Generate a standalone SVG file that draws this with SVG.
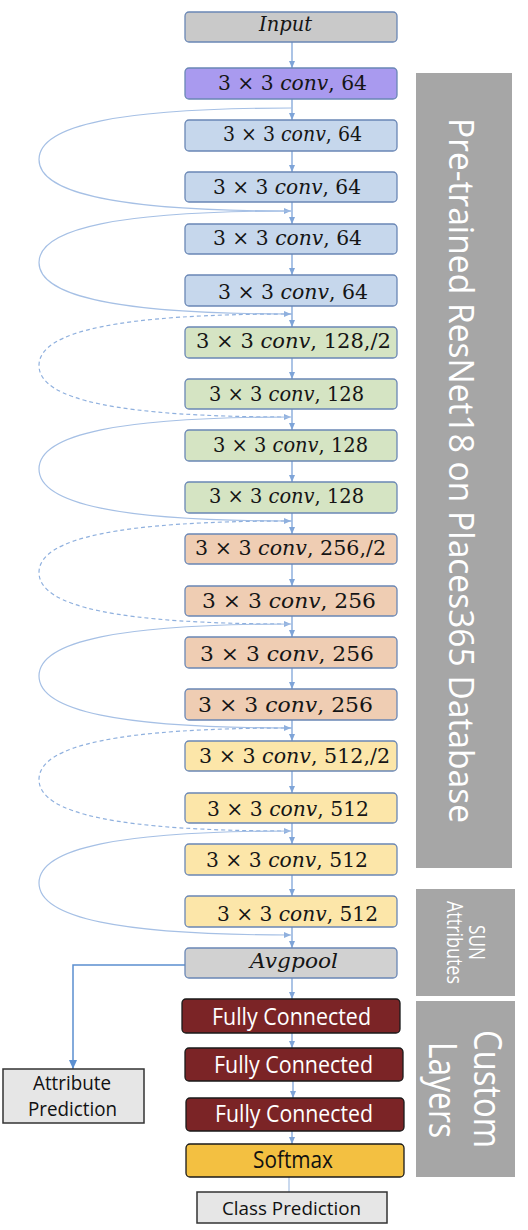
<svg xmlns="http://www.w3.org/2000/svg" width="528" height="1230" viewBox="0 0 528 1230">
<style>
.box{stroke:#6a87b5;stroke-width:1.3}
.gray{fill:#c9c9c9}
.purple{fill:#a99aef}
.blue{fill:#c6d7ec}
.green{fill:#d5e4c3}
.peach{fill:#efcdb3}
.yellow{fill:#fce6a9}
.fc{fill:#7b2426;stroke:#1a1a1a;stroke-width:1.3}
.soft{fill:#f3c041;stroke:#1a1a1a;stroke-width:1.3}
.pred{fill:#e6e6e6;stroke:#333;stroke-width:1.5}
.math{font-family:"DejaVu Serif","Liberation Serif",serif;font-size:20px;fill:#151515}
.it{font-style:italic}
.conn{stroke:#7ea4d8;stroke-width:1.3;fill:none}
.skip{stroke:#a6c0e5;stroke-width:1.2;fill:none}
.dash{stroke:#8fb0de;stroke-dasharray:4 3}
.panel{fill:#a6a6a6}
.ptext{font-family:"Open Sans","Liberation Sans",sans-serif;fill:#fff}
.wtext{font-family:"Open Sans","Liberation Sans",sans-serif;font-size:23px;fill:#fff}
.btext{font-family:"Open Sans","Liberation Sans",sans-serif;fill:#111}
</style>
<defs>
<marker id="ad" markerUnits="userSpaceOnUse" markerWidth="8" markerHeight="6" refX="7" refY="3" orient="auto">
<path d="M0,0 L7,3 L0,6 Z" fill="#7ea4d8"/>
</marker>
<marker id="as" markerUnits="userSpaceOnUse" markerWidth="8" markerHeight="6" refX="7" refY="3" orient="auto">
<path d="M0,0 L7,3 L0,6 Z" fill="#8fb0de"/>
</marker>
<marker id="aa" markerUnits="userSpaceOnUse" markerWidth="10" markerHeight="8" refX="9" refY="4" orient="auto">
<path d="M0,0 L9,4 L0,8 Z" fill="#5b8fd0"/>
</marker>
</defs>

<g id="panels">
<rect class="panel" x="416" y="73" width="96" height="795"/>
<text class="ptext" font-size="34" transform="translate(449,470.5) rotate(90)" text-anchor="middle" textLength="705" lengthAdjust="spacingAndGlyphs">Pre-trained ResNet18 on Places365  Database</text>
<rect class="panel" x="416" y="889" width="99" height="107"/>
<text class="ptext" font-size="21" transform="translate(469,942.5) rotate(90)" text-anchor="middle" textLength="35" lengthAdjust="spacingAndGlyphs">SUN</text>
<text class="ptext" font-size="21" transform="translate(447,942.5) rotate(90)" text-anchor="middle" textLength="83" lengthAdjust="spacingAndGlyphs">Attributes</text>
<rect class="panel" x="416" y="1001" width="99" height="176"/>
<text class="ptext" font-size="38" transform="translate(474,1089) rotate(90)" text-anchor="middle" textLength="118" lengthAdjust="spacingAndGlyphs">Custom</text>
<text class="ptext" font-size="38" transform="translate(429,1090) rotate(90)" text-anchor="middle" textLength="96" lengthAdjust="spacingAndGlyphs">Layers</text>
</g>

<g id="connectors">
<line class="conn" x1="292" y1="42" x2="292" y2="68" marker-end="url(#ad)"/>
<line class="conn" x1="292" y1="99" x2="292" y2="120" marker-end="url(#ad)"/>
<line class="conn" x1="292" y1="151" x2="292" y2="172" marker-end="url(#ad)"/>
<line class="conn" x1="292" y1="202" x2="292" y2="224" marker-end="url(#ad)"/>
<line class="conn" x1="292" y1="254" x2="292" y2="275" marker-end="url(#ad)"/>
<line class="conn" x1="292" y1="306" x2="292" y2="327" marker-end="url(#ad)"/>
<line class="conn" x1="292" y1="358" x2="292" y2="379" marker-end="url(#ad)"/>
<line class="conn" x1="292" y1="409" x2="292" y2="430" marker-end="url(#ad)"/>
<line class="conn" x1="292" y1="461" x2="292" y2="482" marker-end="url(#ad)"/>
<line class="conn" x1="292" y1="513" x2="292" y2="534" marker-end="url(#ad)"/>
<line class="conn" x1="292" y1="564" x2="292" y2="586" marker-end="url(#ad)"/>
<line class="conn" x1="292" y1="616" x2="292" y2="637" marker-end="url(#ad)"/>
<line class="conn" x1="292" y1="668" x2="292" y2="689" marker-end="url(#ad)"/>
<line class="conn" x1="292" y1="720" x2="292" y2="741" marker-end="url(#ad)"/>
<line class="conn" x1="292" y1="771" x2="292" y2="793" marker-end="url(#ad)"/>
<line class="conn" x1="292" y1="823" x2="292" y2="844" marker-end="url(#ad)"/>
<line class="conn" x1="292" y1="875" x2="292" y2="896" marker-end="url(#ad)"/>
<line class="conn" x1="292" y1="927" x2="292" y2="948" marker-end="url(#ad)"/>
<line class="conn" x1="292" y1="978" x2="292" y2="999" marker-end="url(#ad)"/>
<line class="conn" x1="292" y1="1033" x2="292" y2="1048" marker-end="url(#ad)"/>
<line class="conn" x1="293" y1="1081" x2="293" y2="1098" marker-end="url(#ad)"/>
<line class="conn" x1="292" y1="1131" x2="292" y2="1144" marker-end="url(#ad)"/>
<line x1="289" y1="1177" x2="289" y2="1192" stroke="#b8cde9" stroke-width="1.5"/>
<path class="skip" d="M292,108 C120,108 39,125 39,159.5 C39,194 120,211 291,211" marker-end="url(#as)"/>
<path class="skip" d="M292,211 C120,211 39,228 39,262.5 C39,297 120,314 291,314" marker-end="url(#as)"/>
<path class="skip dash" d="M292,314 C120,314 39,331 39,365.5 C39,400 120,417 291,417" marker-end="url(#as)"/>
<path class="skip" d="M292,417 C120,417 39,434 39,469 C39,504 120,521 291,521" marker-end="url(#as)"/>
<path class="skip dash" d="M292,521 C120,521 39,538 39,572.5 C39,607 120,624 291,624" marker-end="url(#as)"/>
<path class="skip" d="M292,624 C120,624 39,641 39,676 C39,711 120,728 291,728" marker-end="url(#as)"/>
<path class="skip dash" d="M292,728 C120,728 39,745 39,779.5 C39,814 120,831 291,831" marker-end="url(#as)"/>
<path class="skip" d="M292,831 C120,831 39,848 39,883 C39,918 120,935 291,935" marker-end="url(#as)"/>
<path d="M185,965 H73 V1069" stroke="#5b8fd0" stroke-width="1.5" fill="none" marker-end="url(#aa)"/>
</g>

<g id="input"><rect class="box gray" x="185" y="12" width="212" height="30" rx="4"/>
<text class="math it" font-size="17" x="259" y="31" textLength="53" lengthAdjust="spacingAndGlyphs">Input</text></g>

<g id="conv1"><rect class="box purple" x="185" y="68" width="212" height="31" rx="4"/>
<text class="math" x="218" y="90" textLength="149" lengthAdjust="spacingAndGlyphs">3 × 3 <tspan class="it">conv</tspan>, 64</text></g>
<g id="conv2"><rect class="box blue" x="185" y="120" width="212" height="31" rx="4"/>
<text class="math" x="223" y="141" textLength="139" lengthAdjust="spacingAndGlyphs">3 × 3 <tspan class="it">conv</tspan>, 64</text></g>
<g id="conv3"><rect class="box blue" x="185" y="172" width="212" height="30" rx="4"/>
<text class="math" x="213" y="194" textLength="148" lengthAdjust="spacingAndGlyphs">3 × 3 <tspan class="it">conv</tspan>, 64</text></g>
<g id="conv4"><rect class="box blue" x="185" y="224" width="212" height="30" rx="4"/>
<text class="math" x="213" y="245" textLength="149" lengthAdjust="spacingAndGlyphs">3 × 3 <tspan class="it">conv</tspan>, 64</text></g>
<g id="conv5"><rect class="box blue" x="185" y="275" width="212" height="31" rx="4"/>
<text class="math" x="218" y="299" textLength="150" lengthAdjust="spacingAndGlyphs">3 × 3 <tspan class="it">conv</tspan>, 64</text></g>

<g id="conv6"><rect class="box green" x="185" y="327" width="212" height="31" rx="4"/>
<text class="math" x="196" y="348" textLength="195" lengthAdjust="spacingAndGlyphs">3 × 3 <tspan class="it">conv</tspan>, 128,/2</text></g>
<g id="conv7"><rect class="box green" x="185" y="379" width="212" height="30" rx="4"/>
<text class="math" x="209" y="401" textLength="155" lengthAdjust="spacingAndGlyphs">3 × 3 <tspan class="it">conv</tspan>, 128</text></g>
<g id="conv8"><rect class="box green" x="185" y="430" width="212" height="31" rx="4"/>
<text class="math" x="213" y="452" textLength="155" lengthAdjust="spacingAndGlyphs">3 × 3 <tspan class="it">conv</tspan>, 128</text></g>
<g id="conv9"><rect class="box green" x="185" y="482" width="212" height="31" rx="4"/>
<text class="math" x="209" y="503" textLength="155" lengthAdjust="spacingAndGlyphs">3 × 3 <tspan class="it">conv</tspan>, 128</text></g>

<g id="conv10"><rect class="box peach" x="185" y="534" width="212" height="30" rx="4"/>
<text class="math" x="195" y="555" textLength="191" lengthAdjust="spacingAndGlyphs">3 × 3 <tspan class="it">conv</tspan>, 256,/2</text></g>
<g id="conv11"><rect class="box peach" x="185" y="586" width="212" height="30" rx="4"/>
<text class="math" x="202" y="608" textLength="174" lengthAdjust="spacingAndGlyphs">3 × 3 <tspan class="it">conv</tspan>, 256</text></g>
<g id="conv12"><rect class="box peach" x="185" y="637" width="212" height="31" rx="4"/>
<text class="math" x="200" y="661" textLength="174" lengthAdjust="spacingAndGlyphs">3 × 3 <tspan class="it">conv</tspan>, 256</text></g>
<g id="conv13"><rect class="box peach" x="185" y="689" width="212" height="31" rx="4"/>
<text class="math" x="198" y="712" textLength="175" lengthAdjust="spacingAndGlyphs">3 × 3 <tspan class="it">conv</tspan>, 256</text></g>

<g id="conv14"><rect class="box yellow" x="185" y="741" width="212" height="30" rx="4"/>
<text class="math" x="199" y="763" textLength="191" lengthAdjust="spacingAndGlyphs">3 × 3 <tspan class="it">conv</tspan>, 512,/2</text></g>
<g id="conv15"><rect class="box yellow" x="185" y="793" width="212" height="30" rx="4"/>
<text class="math" x="207" y="816" textLength="162" lengthAdjust="spacingAndGlyphs">3 × 3 <tspan class="it">conv</tspan>, 512</text></g>
<g id="conv16"><rect class="box yellow" x="185" y="844" width="212" height="31" rx="4"/>
<text class="math" x="206" y="867" textLength="162" lengthAdjust="spacingAndGlyphs">3 × 3 <tspan class="it">conv</tspan>, 512</text></g>
<g id="conv17"><rect class="box yellow" x="185" y="896" width="212" height="31" rx="4"/>
<text class="math" x="217" y="921" textLength="161" lengthAdjust="spacingAndGlyphs">3 × 3 <tspan class="it">conv</tspan>, 512</text></g>

<g id="avgpool"><rect class="box" fill="#d1d1d1" x="185" y="948" width="212" height="30" rx="4"/>
<text class="math it" font-size="20" x="250" y="968" textLength="88" lengthAdjust="spacingAndGlyphs">Avgpool</text></g>

<g id="fc1"><rect class="fc" x="182" y="999" width="218" height="34" rx="4"/>
<text class="wtext" x="212" y="1025" textLength="159" lengthAdjust="spacingAndGlyphs">Fully Connected</text></g>
<g id="fc2"><rect class="fc" x="185" y="1048" width="218" height="33" rx="4"/>
<text class="wtext" x="214" y="1073" textLength="159" lengthAdjust="spacingAndGlyphs">Fully Connected</text></g>
<g id="fc3"><rect class="fc" x="186" y="1098" width="218" height="33" rx="4"/>
<text class="wtext" x="215" y="1122" textLength="158" lengthAdjust="spacingAndGlyphs">Fully Connected</text></g>
<g id="softmax"><rect class="soft" x="186" y="1144" width="218" height="33" rx="4"/>
<text class="btext" font-size="23" x="253" y="1168" textLength="80" lengthAdjust="spacingAndGlyphs">Softmax</text></g>

<g id="class-prediction"><rect class="pred" x="197" y="1192" width="190" height="31"/>
<text class="btext" font-size="19" x="222" y="1215" textLength="139" lengthAdjust="spacingAndGlyphs">Class Prediction</text></g>
<g id="attribute-prediction"><rect class="pred" x="3" y="1069" width="141" height="54"/>
<text class="btext" font-size="20" x="72" y="1090" text-anchor="middle" textLength="78" lengthAdjust="spacingAndGlyphs">Attribute</text>
<text class="btext" font-size="20" x="72.5" y="1116" text-anchor="middle" textLength="89" lengthAdjust="spacingAndGlyphs">Prediction</text></g>
</svg>
